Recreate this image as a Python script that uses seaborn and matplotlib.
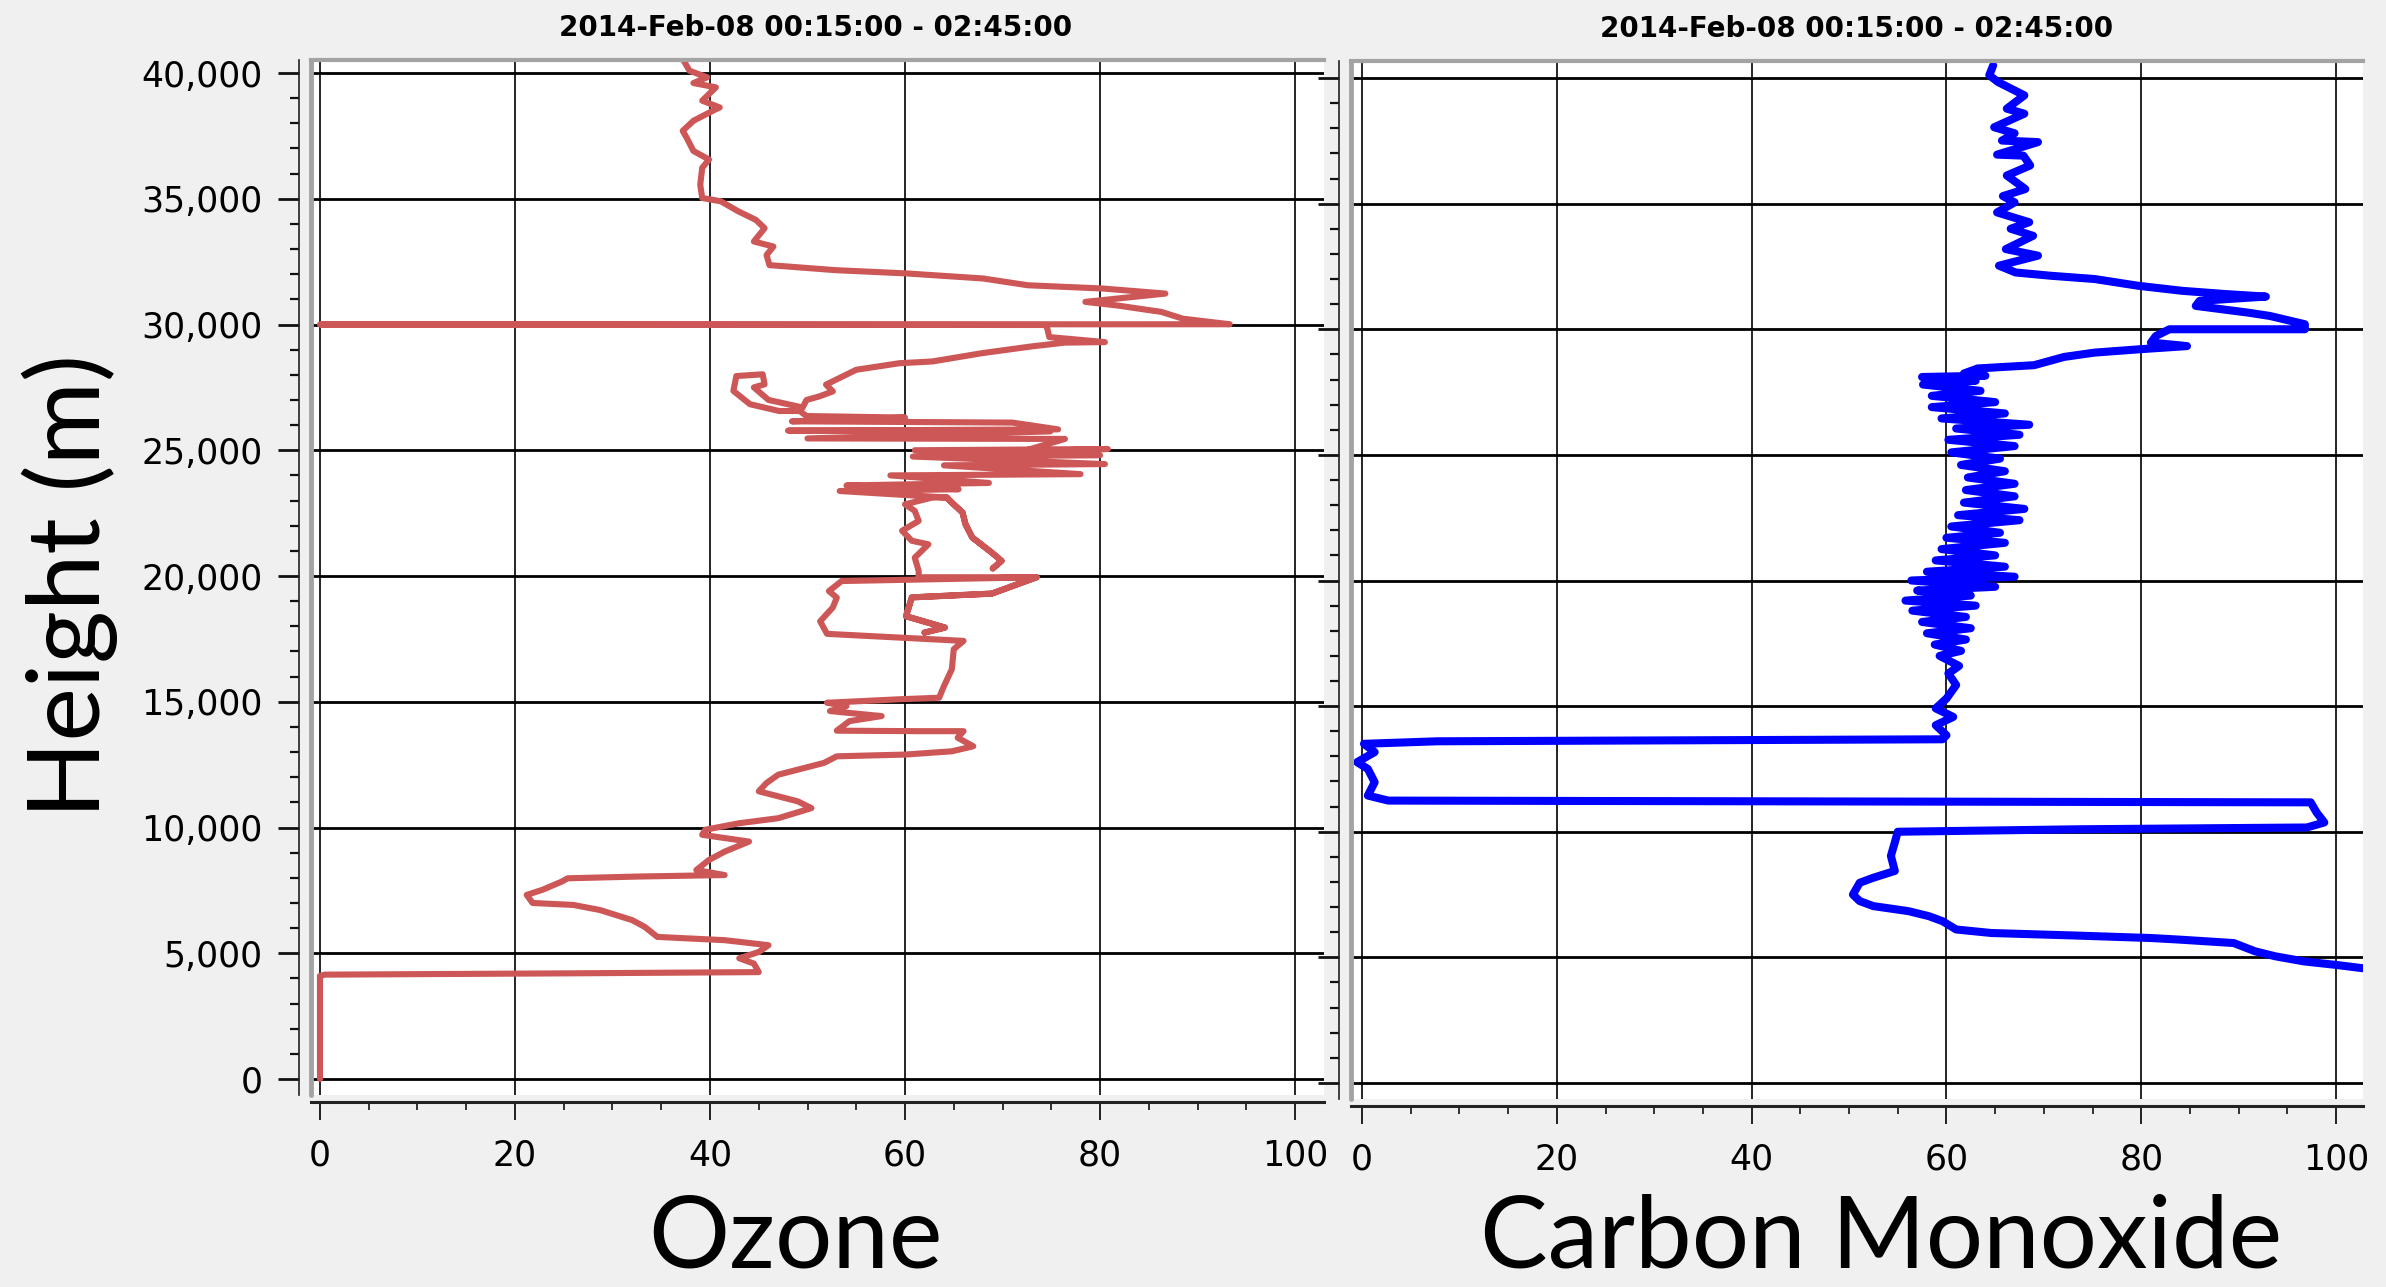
import numpy as np
import pandas as pd
import seaborn as sns
import matplotlib
matplotlib.use('Agg')
from matplotlib import pyplot as plt
from matplotlib.ticker import MultipleLocator, FuncFormatter

# Ozone profile, in flight order (value, height m)
ozone_val = [0, 0, 0.5, 25, 45, 44.5, 43, 45, 46, 41.5, 34.6, 33.3, 32, 28.7, 26, 21.8, 21.2, 22.8,
             24.8, 25.4, 32.6, 41.5, 38.6, 39.9, 41.5, 44, 41.5, 39.2, 39.5, 43, 47, 50.4, 49, 47,
             45, 45.8, 47, 49, 51.7, 53, 60, 64.8, 67, 65.4, 66, 61.5, 53, 54.3, 57.6, 52.3, 54, 52,
             59.5, 63.5, 64, 64.8, 65, 66,
             # lower loop
             52, 51.3, 52.6, 53, 52.2, 53.5, 73.5, 68.9, 60.7, 60.1, 64.1, 62,
             64.1, 60.1, 60.7, 68.9, 73.5, 61.4,
             # twin branches 20-23 km
             61.4, 61, 62.4, 60.7, 59.7, 61.4, 61, 60, 62.8, 64.3,
             64.8, 65.9, 66.2, 66.9, 68.9, 69.9, 69, 69.9, 68.9, 66.9, 66.2, 65.9, 64.8, 64.3,
             # dense layer
             53.3, 65.5, 54, 68.6, 58.5, 78, 64, 80.5, 60.8, 80, 61, 80.8, 72, 76.4, 50, 74.9,
             48, 75.7, 71, 48.4, 60, 49.9, 49.2,
             # small hook
             47.1, 44.1, 42.4, 42.7, 45.4, 45.6, 44.5, 46, 49.5,
             49.9, 51.2, 52.6, 51.9, 55, 59.4, 62.8, 67.9, 73, 76.4, 80.5, 74.8, 74.5, 0, 93.3,
             88.5, 86.3, 81.7, 78.5, 86.7, 80.3, 72.6, 68, 60.2, 52.9, 46.1, 45.8, 46.5, 44.5,
             45.6, 44.7, 42.9, 41.1, 39.2, 39, 39.2, 39.9, 38.3, 37.6, 37.2, 38.3, 40.6, 41,
             39.2, 40.6, 38.3, 39.7, 37.9, 37.2]
ozone_hgt = [0, 4100, 4150, 4200, 4250, 4590, 4800, 5050, 5320, 5520, 5650, 6050, 6320, 6720, 6920,
             7000, 7320, 7520, 7850, 7980, 8050, 8110, 8310, 8710, 9040, 9440, 9580, 9710, 9910,
             10170, 10370, 10770, 11040, 11240, 11440, 11770, 12100, 12300, 12570, 12830, 12900,
             13030, 13230, 13570, 13830, 13830, 13850, 14230, 14430, 14630, 14830, 14960, 15100,
             15160, 15630, 16290, 17090, 17420,
             17700, 18200, 18750, 19140, 19400, 19800, 19950, 19300, 19150, 18400, 17950, 17750,
             17950, 18400, 19150, 19300, 19950, 19950,
             20200, 20730, 21260, 21400, 21800, 22190, 22590, 22850, 23120, 23120,
             22920, 22520, 22060, 21530, 20930, 20600, 20300, 20600, 20930, 21530, 22060, 22520,
             22920, 23120,
             23380, 23450, 23600, 23700, 24000, 24050, 24400, 24450, 24750, 24800, 25000, 25050,
             24950, 25450, 25470, 25750, 25780, 25830, 26100, 26150, 26300, 26360, 26560,
             26560, 26830, 27360, 27950, 28020, 27620, 27500, 27000, 26700,
             27000, 27140, 27340, 27610, 28200, 28460, 28530, 28860, 29130, 29280, 29300, 29500,
             29980, 30000, 30010, 30230, 30500, 30760, 30900, 31230, 31430, 31560, 31830, 32030,
             32160, 32360, 32760, 33100, 33300, 33830, 34160, 34500, 34900, 35030, 35560, 36230,
             36560, 36900, 37430, 37700, 38100, 38560, 38630, 38900, 39430, 39600, 39830, 40090,
             40560]

# Carbon monoxide profile, in flight order (value, height m)
co_val = [104, 102.7, 100, 96.7, 93.8, 91.7, 89.5, 83.8, 81, 73.2, 64.6, 61, 59.6, 58.2, 56.1,
          52.5, 51.1, 50.4, 51.1, 52.5, 54.7, 54.3, 54.7, 55, 73.9, 97, 98.8, 98, 97.4, 2.7, 0.6,
          1.3, 0.6, -0.5, 1.3, 0.2, 7.7, 59.6, 60, 58.9, 60.7, 58.9, 60, 61, 60.2, 61.3,
          # jittery band 17-28 km
          59.3, 61.5, 58.8, 62, 58, 62.5, 57.5, 62, 56.5, 63, 55.8, 62.5, 57, 65, 56.4, 67, 58,
          66, 58.9, 65, 59.5, 66, 60, 65.5, 60.5, 67.5, 61.2, 68, 61.8, 67, 62, 67, 62.2, 66,
          61.5, 65.5, 60.5, 67, 60.2, 67.5, 61, 68.5, 59.5, 66, 58.5, 65, 58.5, 63.5, 57.6, 63,
          57.5, 64, 61.8, 63.2,
          69, 72.1, 75.2, 79.7, 84.7, 81, 81.5, 82.9, 96.8, 96.8, 93.2, 91, 85.6, 86, 92.8, 88.7,
          84.2, 79.7, 75.2, 70.7, 67.1, 65.4, 69.4, 66.1, 68.9, 66.6, 68.5, 65.2, 67, 65.8, 68.1,
          66.2, 68.6, 67.9, 65.2, 69.4, 65.7, 67, 64.9, 68, 66.2, 68, 65.3, 64.4, 64.8]
co_hgt = [4500, 4570, 4700, 4840, 5040, 5240, 5570, 5710, 5770, 5870, 5970, 6110, 6440, 6640, 6840,
          7040, 7240, 7500, 7970, 8170, 8440, 9040, 9570, 10000, 10100, 10170, 10370, 10770, 11170,
          11240, 11440, 11970, 12500, 12770, 13170, 13500, 13600, 13680, 13840, 14240, 14570,
          14910, 15300, 15840, 16300, 16600,
          17000, 17200, 17450, 17650, 17900, 18100, 18350, 18550, 18800, 19000, 19200, 19400,
          19600, 19750, 20000, 20150, 20350, 20550, 20800, 21000, 21250, 21500, 21700, 21900,
          22150, 22400, 22600, 22850, 23100, 23350, 23600, 23850, 24100, 24350, 24600, 24850,
          25100, 25350, 25600, 25800, 26050, 26200, 26450, 26650, 26900, 27100, 27350, 27550,
          27800, 27950, 28100, 28150, 28240, 28440,
          28570, 28900, 29070, 29200, 29330, 29470, 29730, 30000, 30000, 30200, 30530, 30660,
          30930, 31130, 31300, 31400, 31530, 31730, 32000, 32130, 32260, 32530, 32930, 33190,
          33720, 34000, 34260, 34650, 35050, 35300, 35580, 36120, 36520, 36910, 36950, 37450,
          37510, 37800, 38040, 38580, 38780, 39310, 39840, 40110, 40500]

title_text = '2014-Feb-08 00:15:00 - 02:45:00'
panel_names = ['Ozone', 'Carbon Monoxide']

sns.set_theme(style='white')
plt.rcParams['font.family'] = ['DejaVu Sans']

W, H = 2386, 1287
BG = '#f0f0f0'
FRAME = '#a3a3a3'


def box(l, t, r, b):
    return [l / W, 1 - b / H, (r - l) / W, (b - t) / H]


fig = plt.figure(figsize=(W / 100, H / 100), dpi=100, facecolor=BG)
ax1 = fig.add_axes(box(311, 60, 1324, 1095))
ax2 = fig.add_axes(box(1351, 61, 2363, 1099))

sns.lineplot(x=ozone_val, y=ozone_hgt, sort=False, estimator=None, color='#cd5656',
             lw=4.4, ax=ax1)
sns.lineplot(x=co_val, y=co_hgt, sort=False, estimator=None, color='#0000ff',
             lw=5.8, ax=ax2)

ax1.set_xlim(-0.92, 102.97)
ax1.set_ylim(-636, 40517)
ax2.set_xlim(-1.13, 102.77)
ax2.set_ylim(-637, 40677)


def style_axis(ax, show_ylabels):
    ax.set_facecolor('white')
    ax.set_xlabel('')
    ax.set_ylabel('')
    ax.spines['right'].set_visible(False)
    ax.spines['top'].set_color(FRAME)
    ax.spines['top'].set_linewidth(3)
    ax.spines['left'].set_position(('outward', 9))
    ax.spines['left'].set_color('#222222')
    ax.spines['left'].set_linewidth(1.2)
    ax.spines['bottom'].set_position(('outward', 5))
    ax.spines['bottom'].set_color('#222222')
    ax.spines['bottom'].set_linewidth(2.2)
    ax.axvline(ax.get_xlim()[0], color=FRAME, lw=3.5, clip_on=False, zorder=5)

    ax.xaxis.set_major_locator(MultipleLocator(20))
    ax.xaxis.set_minor_locator(MultipleLocator(5))
    ax.yaxis.set_major_locator(MultipleLocator(5000))
    ax.yaxis.set_minor_locator(MultipleLocator(1000))
    ax.yaxis.set_major_formatter(FuncFormatter(lambda v, p: f'{v:,.0f}'))

    ax.tick_params(axis='both', which='both', direction='out', colors='#111111',
                   bottom=True, left=True)
    ax.tick_params(axis='x', which='major', length=13, width=1.3, pad=13, labelsize=25,
                   labelcolor='black')
    ax.tick_params(axis='x', which='minor', length=6, width=1.2)
    ax.tick_params(axis='y', which='major', length=15, width=2, pad=11, labelsize=25,
                   labelcolor='black', labelleft=show_ylabels)
    ax.tick_params(axis='y', which='minor', length=6.5, width=1.6)

    ax.xaxis.grid(True, which='major', color='black', lw=1.2)
    ax.yaxis.grid(True, which='major', color='black', lw=2.0)


style_axis(ax1, True)
style_axis(ax2, False)

fig.text(816 / W, 1 - 28 / H, title_text, ha='center', va='center', fontsize=20,
         fontweight='bold', color='black')
fig.text(1857 / W, 1 - 29 / H, title_text, ha='center', va='center', fontsize=20,
         fontweight='bold', color='black')

fig.text(795 / W, 2 / H, panel_names[0], ha='center', va='bottom', fontsize=73,
         family=['Lato', 'DejaVu Sans'], color='black')
fig.text(1881 / W, 2 / H, panel_names[1], ha='center', va='bottom', fontsize=73,
         family=['Lato', 'DejaVu Sans'], color='black')
fig.text(70 / W, 1 - 586 / H, 'Height (m)', ha='center', va='center', rotation=90,
         fontsize=73, family=['Lato', 'DejaVu Sans'], color='black')

fig.savefig('out.png', dpi=100, facecolor=BG)
